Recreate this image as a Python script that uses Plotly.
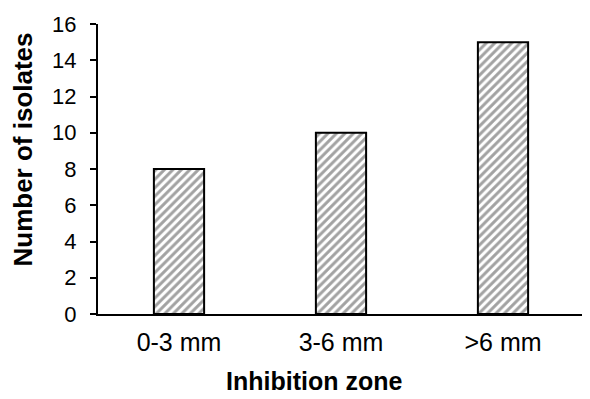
import plotly.graph_objects as go

categories = ["0-3 mm", "3-6 mm", ">6 mm"]
values = [8, 10, 15]

fig = go.Figure(go.Bar(
    x=categories, y=values, width=0.31,
    marker=dict(color="white", line=dict(color="black", width=2),
                pattern=dict(shape="/", size=6, solidity=0.5, fgcolor="#454545", bgcolor="white")),
))
font = dict(family="Liberation Sans, Arial, sans-serif", color="black")
fig.update_layout(
    width=582, height=391, margin=dict(l=90, r=6, t=16, b=85),
    plot_bgcolor="white", paper_bgcolor="white", showlegend=False,
    font=dict(size=22, **font),
    xaxis=dict(showline=True, linecolor="black", linewidth=2, ticks="", showgrid=False,
               tickfont=dict(size=25), automargin=False, ticklabelstandoff=5),
    yaxis=dict(range=[0, 16], dtick=2, showline=True, linecolor="black", linewidth=2,
               ticks="outside", ticklen=6, tickwidth=2, tickcolor="black", showgrid=False, zeroline=False,
               tickfont=dict(size=22), automargin=False, ticklabelstandoff=9),
    bargap=0.69,
    annotations=[
        dict(text="<b>Inhibition zone</b>", xref="paper", yref="paper", x=0.445, y=-0.231,
             xanchor="center", yanchor="middle", showarrow=False, font=dict(size=25)),
        dict(text="<b>Number of isolates</b>", xref="paper", yref="paper", x=-0.155, y=0.566,
             xanchor="center", yanchor="middle", textangle=-90, showarrow=False, font=dict(size=26)),
    ],
)
fig.write_html("out.html")
